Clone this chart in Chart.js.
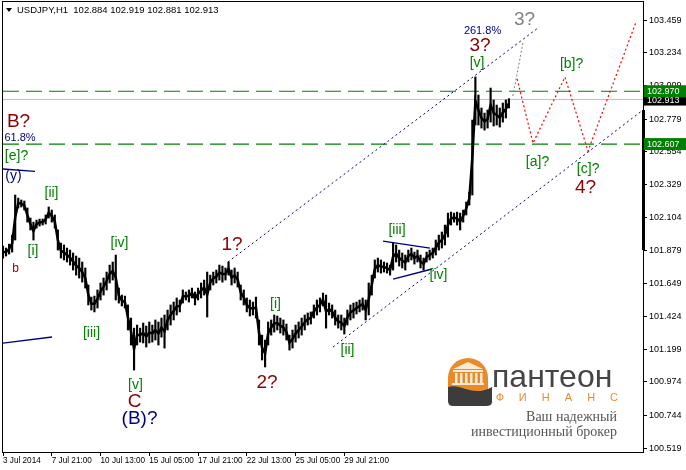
<!DOCTYPE html>
<html><head><meta charset="utf-8">
<script src="https://cdn.jsdelivr.net/npm/chart.js@4.4.1/dist/chart.umd.min.js"></script>
<style>html,body{margin:0;padding:0;background:#fff}</style>
</head><body>
<canvas id="c" width="686" height="470"></canvas>
<script>
// ---- data ----
const dateLabels = ["3 Jul 2014","7 Jul 21:00","10 Jul 13:00","15 Jul 05:00","17 Jul 21:00","22 Jul 13:00","25 Jul 05:00","29 Jul 21:00"];
const dateSlots = [0,16,32,48,64,80,96,112];   // one slot = 4 hourly bars
const slotMax = 210;
const priceTicks = [103.459,103.234,103.009,102.779,102.554,102.329,102.104,101.879,101.649,101.424,101.199,100.974,100.744,100.519];
const highs = [101.907,101.893,101.920,101.982,102.257,102.236,102.223,102.216,102.168,102.099,
102.071,102.085,102.092,102.092,102.120,102.175,102.154,102.120,102.017,101.927,
101.914,101.893,101.879,101.859,101.838,101.824,101.797,101.756,101.639,101.556,
101.563,101.605,101.653,101.687,101.728,101.776,101.797,101.845,101.618,101.570,
101.563,101.502,101.412,101.343,101.364,101.343,101.378,101.357,101.385,101.364,
101.399,101.385,101.412,101.433,101.467,101.502,101.522,101.550,101.536,101.605,
101.591,101.605,101.618,101.591,101.618,101.653,101.673,101.728,101.707,101.728,
101.742,101.776,101.769,101.756,101.797,101.742,101.756,101.728,101.639,101.605,
101.550,101.536,101.522,101.556,101.399,101.295,101.261,101.385,101.399,101.433,
101.426,101.412,101.399,101.371,101.295,101.330,101.364,101.385,101.412,101.433,
101.447,101.454,101.502,101.536,101.550,101.584,101.570,101.515,101.502,101.467,
101.433,101.433,101.412,101.467,101.502,101.515,101.522,101.536,101.550,101.536,
101.653,101.707,101.811,101.824,101.811,101.797,101.790,101.776,101.927,101.914,
101.879,101.859,101.845,101.879,101.893,101.865,101.879,101.845,101.824,101.865,
101.879,101.893,101.948,101.982,102.003,102.051,102.133,102.140,102.133,102.140,
102.133,102.154,102.209,102.277,102.772,103.068,102.944,102.855,102.820,102.841,
102.992,102.910,102.875,102.855,102.889,102.910,102.919];
const lows = [101.824,101.838,101.852,101.865,101.948,102.168,102.175,102.154,102.071,102.017,
101.948,102.030,102.044,102.051,102.058,102.099,102.071,102.030,101.879,101.824,
101.811,101.797,101.776,101.742,101.707,101.687,101.659,101.618,101.502,101.467,
101.454,101.481,101.536,101.570,101.605,101.653,101.673,101.536,101.515,101.495,
101.481,101.330,101.227,101.055,101.227,101.247,101.241,101.213,101.241,101.247,
101.261,101.227,101.281,101.206,101.330,101.364,101.399,101.433,101.454,101.515,
101.536,101.522,101.550,101.502,101.536,101.550,101.570,101.419,101.605,101.639,
101.653,101.673,101.659,101.673,101.707,101.639,101.653,101.625,101.536,101.502,
101.454,101.426,101.433,101.412,101.227,101.124,101.076,101.227,101.295,101.316,
101.330,101.309,101.295,101.261,101.192,101.206,101.247,101.275,101.295,101.330,
101.364,101.371,101.412,101.433,101.454,101.495,101.343,101.433,101.412,101.364,
101.343,101.330,101.302,101.364,101.399,101.412,101.440,101.454,101.467,101.399,
101.433,101.570,101.687,101.728,101.721,101.728,101.721,101.707,101.742,101.797,
101.769,101.756,101.742,101.797,101.811,101.783,101.797,101.756,101.742,101.797,
101.811,101.824,101.845,101.879,101.893,101.914,101.969,102.051,102.071,102.051,
102.017,102.071,102.120,102.188,102.257,102.738,102.738,102.717,102.703,102.717,
102.758,102.731,102.738,102.724,102.758,102.786,102.855];
// horizontal levels
const levelHigh = 102.970, levelBid = 102.913, levelLow = 102.607;
// channel / forecast paths  [slot, price]
const channelUpper = [[73.8,101.797],[175.5,103.404]];
const channelLower = [[108.3,101.213],[210,102.841]];
const forecastRed = [[168.7,103.054],[173.9,102.614],[184.4,103.067],[191.95,102.559],[207.7,103.445]];
const forecastGrey = [[167.3,102.937],[170.6,103.301]];
const triUpper = [[124.7,101.941],[140.1,101.893]];
const triLower = [[128.0,101.680],[140.8,101.749]];
const lineY = [[0,102.436],[10.5,102.419]];
const lineLeft = [[0,101.240],[16.1,101.282]];
// wave labels
const RED='#8B0000', GRN='#008000', NAV='#000080', GRY='#808080';
const waveText  = ["B?","61.8%","[e]?","(y)","[ii]","[i]","b","[iv]","[iii]","[v]","C","(B)?","1?","[i]","2?","[ii]","[iii]","[iv]","[v]","3?","261.8%","3?","[b]?","[a]?","[c]?","4?"];
const waveSlot  = [5.09,5.58,4.43,3.45,15.91,9.84,4.10,38.23,29.04,43.48,43.15,44.79,75.14,89.42,86.63,113.04,129.28,142.90,155.55,156.52,157.35,171.12,186.56,175.38,192.0,191.13];
const wavePrice = [102.762,102.652,102.521,102.384,102.271,101.869,101.752,101.924,101.309,100.949,100.839,100.718,101.913,101.505,100.966,101.189,102.016,101.704,103.160,103.284,103.383,103.459,103.156,102.480,102.432,102.308];
const waveColor = [RED,NAV,GRN,NAV,GRN,GRN,RED,GRN,GRN,GRN,RED,NAV,RED,GRN,RED,GRN,GRN,GRN,GRN,RED,NAV,GRY,GRN,GRN,GRN,RED];
const waveSize  = [19,11,14,14,14,14,12,14,14,14,19,19,19,14,19,14,14,14,14,19,11,19,14,14,14,19];

Chart.defaults.font.family = '"Liberation Sans", Arial, sans-serif';
const pts = a => a.map(p => ({x:p[0], y:p[1]}));
const lineDs = (a, color, dash, w) => ({type:'line', data:pts(a), borderColor:color, borderWidth:w||1, borderDash:dash||[], pointRadius:0, fill:false, tension:0});

const overlay = {
  id:'overlay',
  beforeDraw(chart){
    const c = chart.ctx; c.save(); c.fillStyle='#fff'; c.fillRect(0,0,chart.width,chart.height); c.restore();
  },
  beforeDatasetsDraw(chart){
    const c = chart.ctx, a = chart.chartArea;
    const L = a.right - 195, T = a.bottom - 94;
    c.save();
    // icon
    c.fillStyle='#E98B2A';
    c.beginPath(); c.moveTo(L,T+42); c.lineTo(L,T+20); c.arc(L+20,T+20,20,Math.PI,2*Math.PI); c.lineTo(L+40,T+42); c.closePath(); c.fill();
    c.fillStyle='#FBEBD5';
    c.beginPath(); c.moveTo(L+5,T+11); c.lineTo(L+20,T+4); c.lineTo(L+35,T+11); c.closePath(); c.fill();
    c.fillRect(L+5,T+12,30,2);
    for(let k=0;k<6;k++) c.fillRect(L+7+k*5,T+15,2.5,10);
    c.fillRect(L+4,T+25,32,2);
    c.fillStyle='#3C3C3C';
    c.beginPath(); c.moveTo(L,T+29); c.bezierCurveTo(L+14,T+25,L+24,T+40,L+44,T+29);
    c.lineTo(L+44,T+44); c.quadraticCurveTo(L+44,T+48,L+38,T+48); c.lineTo(L+5,T+48); c.quadraticCurveTo(L,T+48,L,T+43); c.closePath(); c.fill();
    // name
    c.fillStyle='#454545'; c.font='32px "Liberation Sans"'; c.textBaseline='alphabetic'; c.textAlign='left';
    c.fillText('пантеон', L+44, T+29);
    c.fillStyle='#E98B2A'; c.font='11px "Liberation Sans"'; c.textAlign='center'; c.textBaseline='middle';
    'ФИНАНС'.split('').forEach((ch,k)=>c.fillText(ch, L+52+k*22.8, T+40));
    c.fillStyle='#555'; c.font='14px "Liberation Serif"'; c.textAlign='right'; c.textBaseline='alphabetic';
    c.fillText('Ваш надежный', L+169, T+63);
    c.fillText('инвестиционный брокер', L+169, T+78);
    c.restore();
  },
  afterDatasetsDraw(chart){
    const c = chart.ctx, x = chart.scales.x, y = chart.scales.y;
    c.save(); c.textAlign='center'; c.textBaseline='middle';
    waveText.forEach((t,k)=>{
      c.fillStyle = waveColor[k];
      c.font = waveSize[k] + 'px "Liberation Sans"';
      c.fillText(t, x.getPixelForValue(waveSlot[k]), y.getPixelForValue(wavePrice[k]));
    });
    c.restore();
  },
  afterDraw(chart){
    const c = chart.ctx, a = chart.chartArea, y = chart.scales.y;
    c.save();
    c.strokeStyle='#000'; c.lineWidth=1;
    c.strokeRect(a.left-0.5, a.top-0.5, a.right-a.left+1, a.bottom-a.top+1);
    // axis marker bar
    c.fillStyle='#000';
    const y1 = y.getPixelForValue(102.841), y2 = y.getPixelForValue(101.879);
    c.fillRect(a.right-1, y1, 3, y2-y1);
    // price boxes
    c.font='9px "Liberation Sans"'; c.textBaseline='middle'; c.textAlign='left';
    const box = (lvl, bg) => { const yy = y.getPixelForValue(lvl); c.fillStyle=bg; c.fillRect(a.right+1, yy-6, chart.width-a.right-1, 12); c.fillStyle='#fff'; c.fillText(lvl.toFixed(3), a.right+4, yy+0.5); };
    box(levelBid,'#000'); box(levelHigh,'#008000'); box(levelLow,'#008000');
    // title
    c.fillStyle='#000';
    c.beginPath(); c.moveTo(6,8); c.lineTo(12,8); c.lineTo(9,12); c.closePath(); c.fill();
    c.font='9.5px "Liberation Sans"'; c.textBaseline='middle';
    c.fillText('USDJPY,H1  102.884 102.919 102.881 102.913', 17, 10.5);
    c.restore();
  }
};

new Chart(document.getElementById('c'), {
  type:'bar',
  data:{datasets:[
    {type:'bar', data:highs.map((h,k)=>({x:k, y:[lows[k],h]})), backgroundColor:'#000', barThickness:1.5, borderWidth:0},
    {type:'line', data:highs.map((h,k)=>({x:k, y:(h+lows[k])/2})), borderColor:'#000', borderWidth:2.5, pointRadius:0, tension:0, fill:false},
    lineDs(channelUpper,'#000080',[2,3]),
    lineDs(channelLower,'#000080',[2,3]),
    lineDs(forecastRed,'#FF0000',[2,2.5],1.2),
    lineDs(forecastGrey,'#808080',[2,2]),
    lineDs(triUpper,'#000080',[],1.3),
    lineDs(triLower,'#000080',[],1.3),
    lineDs(lineY,'#000080',[],1.3),
    lineDs(lineLeft,'#000080',[],1.3),
    lineDs([[0,levelHigh],[slotMax,levelHigh]],'#008000',[16,7],1.2),
    lineDs([[0,levelLow],[slotMax,levelLow]],'#008000',[16,7],1.2),
    lineDs([[0,levelBid],[slotMax,levelBid]],'#C0C0C0',[])
  ]},
  options:{
    responsive:false, animation:false, devicePixelRatio:1,
    layout:{padding:{left:3,top:2,right:0,bottom:0}},
    plugins:{legend:{display:false}, tooltip:{enabled:false}},
    scales:{
      x:{type:'linear', min:0, max:slotMax, offset:false,
         grid:{offset:false, drawOnChartArea:false, drawTicks:true, tickLength:4, color:'#000'},
         border:{display:false},
         ticks:{autoSkip:false, maxRotation:0, align:'start', padding:0, color:'#000', font:{size:8.2},
                callback:v => dateLabels[dateSlots.indexOf(v)]},
         afterBuildTicks:s => { s.ticks = dateSlots.map(v => ({value:v})); },
         afterFit:s => { s.height = 18; s.paddingLeft = 0; s.paddingRight = 0; }},
      y:{position:'right', min:100.492, max:103.583, bounds:'data',
         grid:{drawOnChartArea:false, tickLength:4, color:'#000'},
         border:{display:false},
         ticks:{padding:2, color:'#000', font:{size:9}, autoSkip:false, callback:v => v.toFixed(3)},
         afterBuildTicks:s => { s.ticks = priceTicks.map(v => ({value:v})); },
         afterFit:s => { s.width = 43; s.paddingTop = 0; s.paddingBottom = 0; }}
    }
  },
  plugins:[overlay]
});
</script>
</body></html>
